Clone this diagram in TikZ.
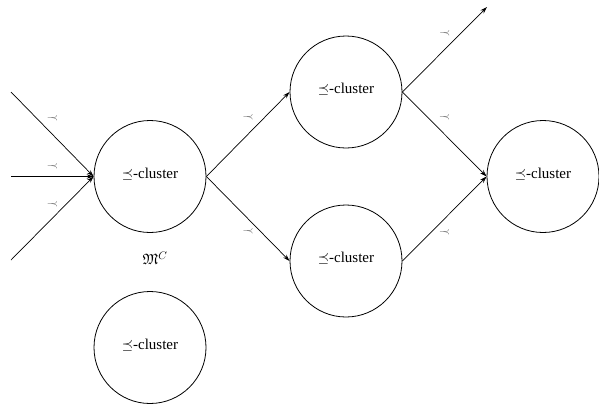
\documentclass[tikz,border=0pt]{standalone}
\usepackage{amssymb}
\usepackage{fontspec}
\setmainfont{Liberation Serif}
\usetikzlibrary{arrows.meta}
\begin{document}
\begin{tikzpicture}[x=1pt,y=-1pt,
  cl/.style={draw,circle,minimum size=112pt,inner sep=0pt,line width=0.8pt,font=\fontsize{15}{17}\selectfont},
  edge/.style={line width=0.7pt,-{Stealth[length=7pt,width=4.5pt]}},
  lab/.style={font=\fontsize{9}{10}\selectfont,inner sep=0pt,text=black!70}]
\useasboundingbox (0,0) rectangle (599,405);
\newcommand{\cltext}{\raisebox{7pt}{$\preceq$-cluster}}
\node[cl] (c1) at (150,176.5) {\cltext};
\node[cl] (c2) at (346,92) {\cltext};
\node[cl] (c3) at (346,261) {\cltext};
\node[cl] (c4) at (543,176.5) {\cltext};
\node[cl] (c5) at (150,347.5) {\cltext};
\node[font=\fontsize{15}{17}\selectfont] (mc) at (155,258) {$\mathfrak{M}^C$};
\coordinate (i1) at (11,92);
\coordinate (i2) at (11,176.5);
\coordinate (i3) at (11,260);
\coordinate (o1) at (487,7);
\newcommand{\tl}{$\relbar\mkern-7mu\prec$}
\draw[edge] (i1) -- node[lab,yshift=16pt] (l1) {\tl} (c1.west);
\draw[edge] (i2) -- node[lab,yshift=10pt] (l2) {\tl} (c1.west);
\draw[edge] (i3) -- node[lab,yshift=14pt] (l3) {\tl} (c1.west);
\draw[edge] (c1.east) -- node[lab,yshift=17pt] (l4) {\tl} (c2.west);
\draw[edge] (c1.east) -- node[lab,yshift=-12pt] (l5) {\tl} (c3.west);
\draw[edge] (c2.east) -- node[lab,yshift=16pt] (l6) {\tl} (o1);
\draw[edge] (c2.east) -- node[lab,yshift=17pt] (l7) {\tl} (c4.west);
\draw[edge] (c3.east) -- node[lab,yshift=-13pt] (l8) {\tl} (c4.west);
\end{tikzpicture}
\end{document}
